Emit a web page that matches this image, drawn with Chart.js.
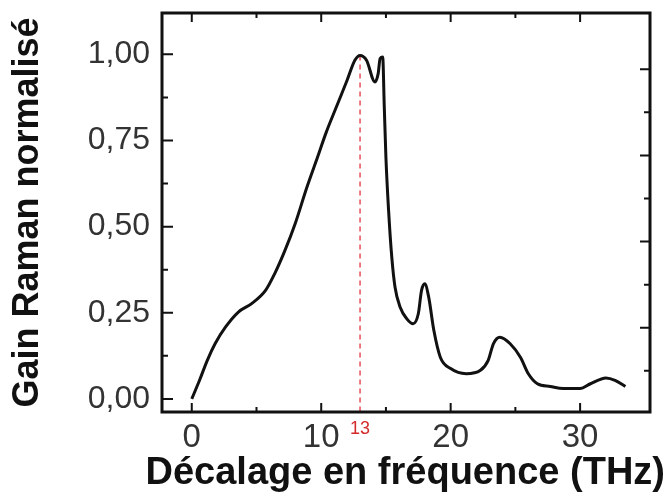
<!DOCTYPE html>
<html>
<head>
<meta charset="utf-8">
<script src="https://cdn.jsdelivr.net/npm/chart.js@4/dist/chart.umd.min.js"></script>
<style>
  html, body { margin: 0; padding: 0; background: #fff; }
  #wrap { width: 669px; height: 502px; }
</style>
</head>
<body>
<div id="wrap"><canvas id="chart" width="669" height="502"></canvas></div>
<script>
// Raman gain curve
const freqTHz = [0, 0.6, 1.2, 1.8, 2.6, 3.6, 4.6, 5.7, 6.4, 7.2, 8.0, 8.9, 9.7, 10.4, 11.2, 12.0, 12.6, 13.0,
    13.5, 14.15, 14.4, 14.55, 14.75, 14.87, 15.0, 15.2, 15.45, 15.7, 16.1, 16.6, 17.1, 17.5, 17.75, 18.0, 18.3, 18.7,
    19.2, 20.0, 21.2, 22.3, 22.9, 23.3, 23.8, 24.6, 25.4, 26.0, 26.7, 27.7, 28.7, 30.0, 30.8, 32.0, 32.7, 33.5];
const gainNorm = [0, 0.054, 0.112, 0.16, 0.208, 0.252, 0.276, 0.315, 0.363, 0.431, 0.51, 0.615, 0.70, 0.775,
    0.85, 0.925, 0.983, 0.997, 0.983, 0.92, 0.944, 0.988, 0.992, 0.85, 0.70, 0.55, 0.412, 0.325, 0.266, 0.233, 0.218,
    0.247, 0.315, 0.334, 0.296, 0.199, 0.121, 0.088, 0.073, 0.083, 0.112, 0.16, 0.179, 0.16, 0.12, 0.073, 0.044, 0.036,
    0.03, 0.03, 0.044, 0.061, 0.054, 0.036];

// red marker at the peak
const peakX = [13, 13];
const peakY = [0.997, -0.04];

// tick values
const xLabelTicks = [0, 10, 13, 20, 30];
const xMajor = [0, 10, 20, 30];
const xMinor = [5, 15, 25];
const yMajor = [0, 0.25, 0.5, 0.75, 1];
const yMinor = [0.125, 0.375, 0.625, 0.875];
// right side ticks sit a little higher than the left ones in the figure
const y2Major = [0.25, 0.5, 0.75, 1];
const y2Minor = [0.125, 0.375, 0.625, 0.875];

const FONT = "'Liberation Sans', Arial, Helvetica, sans-serif";

const frame = {
    id: 'frame',
    afterDraw(chart) {
        const {ctx, chartArea: a, scales} = chart;
        const x = scales.x, y = scales.y, y2 = scales.y2;
        ctx.save();
        ctx.strokeStyle = '#111';
        ctx.lineWidth = 2;
        ctx.beginPath();
        function hTick(v, len) {
            let px = x.getPixelForValue(v);
            ctx.moveTo(px, a.bottom); ctx.lineTo(px, a.bottom - len);
            ctx.moveTo(px, a.top); ctx.lineTo(px, a.top + len);
        }
        xMajor.forEach(v => hTick(v, 9));
        xMinor.forEach(v => hTick(v, 5));
        yMajor.forEach(v => {
            let py = y.getPixelForValue(v);
            ctx.moveTo(a.left, py); ctx.lineTo(a.left + 11, py);
        });
        yMinor.forEach(v => {
            let py = y.getPixelForValue(v);
            ctx.moveTo(a.left, py); ctx.lineTo(a.left + 6, py);
        });
        y2Major.forEach(v => {
            let py = y2.getPixelForValue(v);
            ctx.moveTo(a.right, py); ctx.lineTo(a.right - 10, py);
        });
        y2Minor.forEach(v => {
            let py = y2.getPixelForValue(v);
            ctx.moveTo(a.right, py); ctx.lineTo(a.right - 6, py);
        });
        ctx.stroke();
        ctx.lineWidth = 3;
        ctx.strokeRect(a.left, a.top, a.right - a.left, a.bottom - a.top);
        ctx.restore();
    }
};

function noPad(s) {
    s.paddingTop = 0; s.paddingBottom = 0; s.paddingLeft = 0; s.paddingRight = 0;
}

new Chart(document.getElementById('chart'), {
    type: 'line',
    data: {
        datasets: [
            {
                data: freqTHz.map((f, i) => ({x: f, y: gainNorm[i]})),
                borderColor: '#111',
                borderWidth: 3,
                pointRadius: 0,
                cubicInterpolationMode: 'monotone',
                fill: false
            },
            {
                data: peakX.map((f, i) => ({x: f, y: peakY[i]})),
                borderColor: '#e8505a',
                borderWidth: 1.5,
                borderDash: [5, 4],
                pointRadius: 0,
                fill: false
            }
        ]
    },
    options: {
        responsive: false,
        animation: false,
        devicePixelRatio: 1,
        layout: {padding: {top: 13, right: 4, left: 0, bottom: 0}},
        plugins: {
            legend: {display: false},
            tooltip: {enabled: false},
            // x axis title as a full width title, so it is not squeezed to the axis length
            title: {
                display: true,
                position: 'bottom',
                align: 'end',
                fullSize: true,
                text: 'Décalage en fréquence (THz)',
                color: '#111',
                font: {family: FONT, size: 38, weight: 'bold', lineHeight: 1},
                padding: {top: 0, bottom: 9}
            }
        },
        scales: {
            x: {
                type: 'linear',
                min: -2.3,
                max: 35.4,
                afterBuildTicks: s => { s.ticks = xLabelTicks.map(v => ({value: v})); },
                afterFit: s => { s.height = 43; noPad(s); },
                grid: {display: false, drawTicks: false},
                border: {display: false},
                ticks: {
                    autoSkip: false,
                    maxRotation: 0,
                    padding: 6,
                    color: c => c.tick && c.tick.value === 13 ? '#d42a2a' : '#333',
                    font: c => ({family: FONT, size: c.tick && c.tick.value === 13 ? 18 : 33}),
                    callback: v => String(v)
                }
            },
            y: {
                min: -0.038,
                max: 1.12,
                afterBuildTicks: s => { s.ticks = yMajor.map(v => ({value: v})); },
                afterFit: s => { s.width = 162; noPad(s); },
                grid: {display: false, drawTicks: false},
                border: {display: false},
                ticks: {
                    padding: 12,
                    color: '#333',
                    font: {family: FONT, size: 32},
                    callback: v => v.toFixed(2).replace('.', ',')
                },
                title: {
                    display: true,
                    text: 'Gain Raman normalisé',
                    color: '#111',
                    font: {family: FONT, size: 36, weight: 'bold', lineHeight: 1},
                    padding: {top: 10, bottom: 0}
                }
            },
            y2: {
                position: 'right',
                min: 0.0054,
                max: 1.1634,
                afterFit: s => { s.width = 15; noPad(s); },
                grid: {display: false, drawTicks: false},
                border: {display: false},
                ticks: {display: false}
            }
        }
    },
    plugins: [frame]
});
</script>
</body>
</html>
